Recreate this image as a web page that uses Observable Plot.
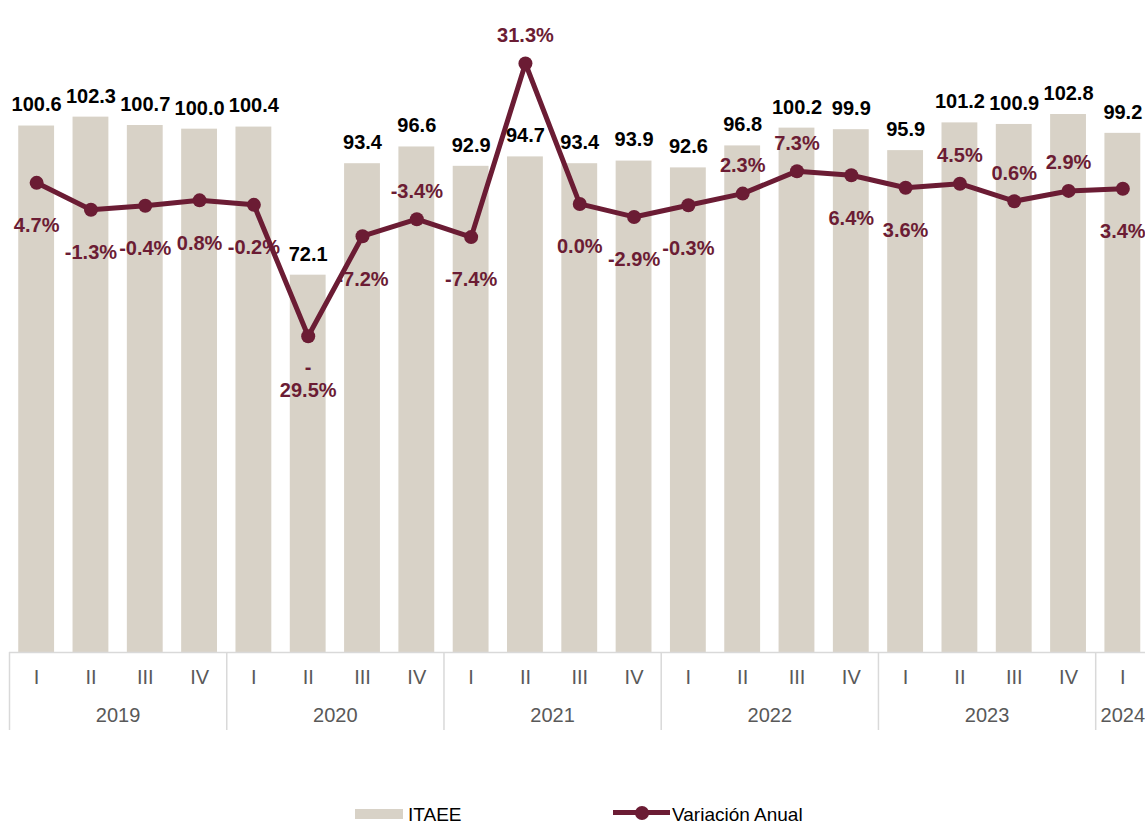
<!DOCTYPE html>
<html>
<head>
<meta charset="utf-8">
<script src="https://cdn.jsdelivr.net/npm/d3@7"></script>
<script src="https://cdn.jsdelivr.net/npm/@observablehq/plot@0.6"></script>
<style>
  html, body { margin: 0; padding: 0; background: #fff; overflow: hidden; }
  body { font-family: "Liberation Sans", Arial, sans-serif; width: 1145px; height: 823px; }
  #legend { position: relative; width: 1145px; height: 83px; }
  .lg-rect { position: absolute; left: 355px; top: 69px; width: 48px; height: 10px; background: #D8D2C7; }
  .lg-text { position: absolute; top: 65px; font-size: 19px; line-height: 19px; color: #000; white-space: nowrap; }
  .lg-line { position: absolute; left: 613px; top: 70px; width: 57px; height: 5px; background: #6B1C34; }
  .lg-dot { position: absolute; left: 635px; top: 65.5px; width: 14px; height: 14px; border-radius: 50%; background: #6B1C34; }
</style>
</head>
<body>
<div id="chart"></div>
<div id="legend">
  <div class="lg-rect"></div>
  <div class="lg-text" style="left:408px">ITAEE</div>
  <div class="lg-line"></div>
  <div class="lg-dot"></div>
  <div class="lg-text" style="left:672px">Variación Anual</div>
</div>
<script>
// ---- Data ----
const years = ["2019","2019","2019","2019","2020","2020","2020","2020","2021","2021","2021","2021",
               "2022","2022","2022","2022","2023","2023","2023","2023","2024"];
const quarters = ["I","II","III","IV","I","II","III","IV","I","II","III","IV",
                  "I","II","III","IV","I","II","III","IV","I"];
const itaee = [100.6,102.3,100.7,100.0,100.4,72.1,93.4,96.6,92.9,94.7,93.4,93.9,
               92.6,96.8,100.2,99.9,95.9,101.2,100.9,102.8,99.2];
const variacionAnual = [4.7,-1.3,-0.4,0.8,-0.2,-29.5,-7.2,-3.4,-7.4,31.3,0.0,-2.9,
                        -0.3,2.3,7.3,6.4,3.6,4.5,0.6,2.9,3.4];
// label side for the annual-variation labels
const labelSide = ["below","below","below","below","below","below","below","above","below","above","below","below",
                   "below","above","above","below","below","above","above","above","below"];

// axis domains (primary: index, secondary: percent)
const primaryDomain = [0, 120];
const secondaryDomain = [-100, 40];

// ---- Build table ----
const data = itaee.map((v, i) => ({
  key: years[i] + "-" + quarters[i],
  year: years[i],
  q: quarters[i],
  itaee: v,
  pct: variacionAnual[i],
  side: labelSide[i]
}));

const toPrimary = d3.scaleLinear().domain(secondaryDomain).range(primaryDomain);
const fmtPct = v => {
  const s = v.toFixed(1) + "%";
  return s.length > 5 ? s.replace(/^-/, "-\n") : s;
};

const W = 1145, H = 740;
const mL = 9, mR = -4.5;
const step = (W - mL - mR) / data.length;

// years grouping
const yearList = Array.from(new Set(years));
const yearInfo = yearList.map(y => {
  const ks = data.filter(d => d.year === y).map(d => d.key);
  return { year: y, keys: ks, n: ks.length };
});
const evenYears = yearInfo.filter(d => d.n % 2 === 0).map(d => ({year: d.year, key: d.keys[d.n / 2 - 1]}));
const oddYears = yearInfo.filter(d => d.n % 2 === 1).map(d => ({year: d.year, key: d.keys[(d.n - 1) / 2]}));
const yearStarts = yearInfo.map(d => d.keys[0]);

const maroon = "#6B1C34";
const beige = "#D8D2C7";
const axisGray = "#D9D9D9";

const chart = Plot.plot({
  width: W,
  height: H,
  marginLeft: mL,
  marginRight: mR,
  marginTop: 24,
  marginBottom: 88,
  style: { fontFamily: "'Liberation Sans', Arial, sans-serif", background: "transparent", overflow: "visible" },
  x: { domain: data.map(d => d.key), paddingInner: 0.34, paddingOuter: 0.17, round: false, axis: null },
  y: { domain: primaryDomain, axis: null },
  marks: [
    Plot.barY(data, { x: "key", y: "itaee", fill: beige }),
    Plot.ruleY([0], { stroke: axisGray, strokeWidth: 1.5 }),
    Plot.axisX(yearStarts, { tickSize: 78, tickFormat: () => "", dx: -step / 2, stroke: axisGray, strokeWidth: 1.5, label: null }),
    Plot.text(data, { x: "key", text: "q", frameAnchor: "bottom", dy: 31, fontSize: 20, fill: "#595959" }),
    Plot.text(evenYears, { x: "key", text: "year", frameAnchor: "bottom", dy: 69, dx: step / 2, fontSize: 20, fill: "#595959" }),
    Plot.text(oddYears, { x: "key", text: "year", frameAnchor: "bottom", dy: 69, fontSize: 20, fill: "#595959" }),
    Plot.line(data, { x: "key", y: d => toPrimary(d.pct), stroke: maroon, strokeWidth: 5, strokeLinejoin: "round" }),
    Plot.dot(data, { x: "key", y: d => toPrimary(d.pct), r: 7, fill: maroon, stroke: "none" }),
    Plot.text(data.filter(d => d.side === "below"), { x: "key", y: d => toPrimary(d.pct), text: d => fmtPct(d.pct), dy: 42, fontSize: 20, fontWeight: "bold", fill: maroon, lineHeight: 1.15 }),
    Plot.text(data.filter(d => d.side === "above"), { x: "key", y: d => toPrimary(d.pct), text: d => fmtPct(d.pct), dy: -28, fontSize: 20, fontWeight: "bold", fill: maroon }),
    Plot.text(data, { x: "key", y: "itaee", text: d => d.itaee.toFixed(1), dy: -21, fontSize: 20, fontWeight: "bold", fill: "#000" })
  ]
});
document.getElementById("chart").appendChild(chart);
</script>
</body>
</html>
